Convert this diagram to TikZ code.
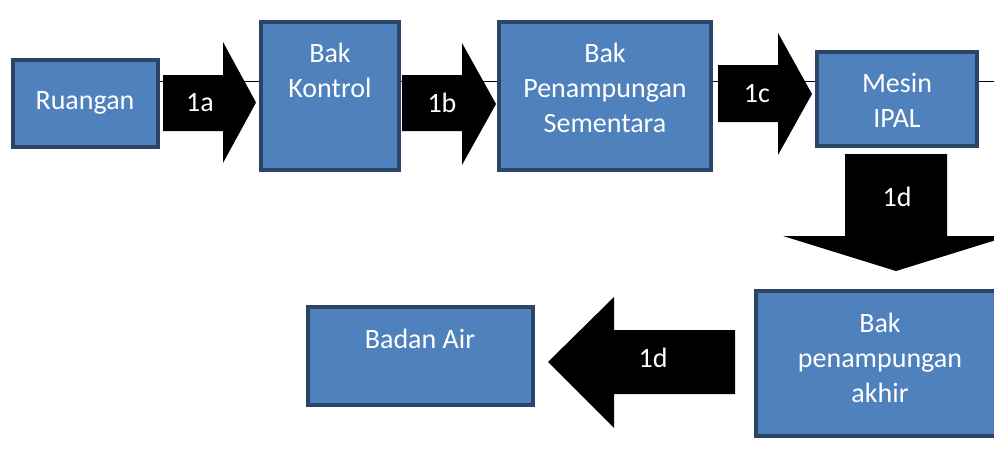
\documentclass[tikz,border=0pt]{standalone}
\usepackage{fontspec}
\setmainfont{Carlito}
\usetikzlibrary{backgrounds}
\definecolor{boxfill}{HTML}{4F81BD}
\definecolor{boxline}{HTML}{2B4569}
\begin{document}
\begin{tikzpicture}[x=1pt,y=-1pt,
  box/.style={draw=boxline,fill=boxfill,line width=4pt,inner sep=0pt},
  boxtext/.style={text=white,align=center,inner sep=0pt,font=\fontsize{28}{35}\selectfont},
  blockarrow/.style={fill=black,draw=none},
  arrowtext/.style={text=white,inner sep=0pt,font=\fontsize{28}{35}\selectfont}]
\useasboundingbox (0,0) rectangle (994,471);
\clip (0,0) rectangle (994,471);

% boxes
\node[box,minimum width=145pt,minimum height=87pt] (ru) at (85.5,103.5) {};
\node[box,minimum width=138pt,minimum height=148pt] (bk) at (330,96) {};
\node[box,minimum width=212pt,minimum height=148pt] (bps) at (605,96) {};
\node[box,minimum width=160pt,minimum height=94pt] (mi) at (897,99) {};
\node[box,minimum width=248pt,minimum height=145pt] (bpa) at (880,363.5) {};
\node[box,minimum width=225pt,minimum height=98pt] (ba) at (420.5,356) {};

% box texts
\node[boxtext] (tru) at (85,103) {Ruangan};
\node[boxtext] (tbk) at (330,70.5) {Bak\\Kontrol};
\node[boxtext] (tbps) at (605,88) {Bak\\Penampungan\\Sementara};
\node[boxtext] (tmi) at (897,100) {Mesin\\IPAL};
\node[boxtext] (tbpa) at (880,358) {Bak\\penampungan\\akhir};
\node[boxtext] (tba) at (420,339) {Badan Air};

% thin line behind
\coordinate (lineend) at (994,81);
\begin{scope}[on background layer]
\draw[line width=1pt] (ru.east |- lineend) -- (lineend);
\end{scope}

% block arrows
\fill[blockarrow] (163,75) -- (223,75) -- (223,42) -- (256,102.5) -- (223,163) -- (223,131) -- (163,131) -- cycle;
\node[arrowtext] (a1) at (200,103) {1a};
\fill[blockarrow] (402,75) -- (462,75) -- (462,43) -- (496,104) -- (462,165) -- (462,131) -- (402,131) -- cycle;
\node[arrowtext] (a2) at (442,103) {1b};
\fill[blockarrow] (718,65) -- (778,65) -- (778,33) -- (812,94) -- (778,155) -- (778,122) -- (718,122) -- cycle;
\node[arrowtext] (a3) at (757,94) {1c};
\fill[blockarrow] (845,154) -- (947,154) -- (947,236) -- (1009,236) -- (896,271) -- (783,236) -- (845,236) -- cycle;
\node[arrowtext] (a4) at (897,197) {1d};
\fill[blockarrow] (735,330) -- (614,330) -- (614,297) -- (548,362) -- (614,428) -- (614,394) -- (735,394) -- cycle;
\node[arrowtext] (a5) at (653,358) {1d};
\end{tikzpicture}
\end{document}
